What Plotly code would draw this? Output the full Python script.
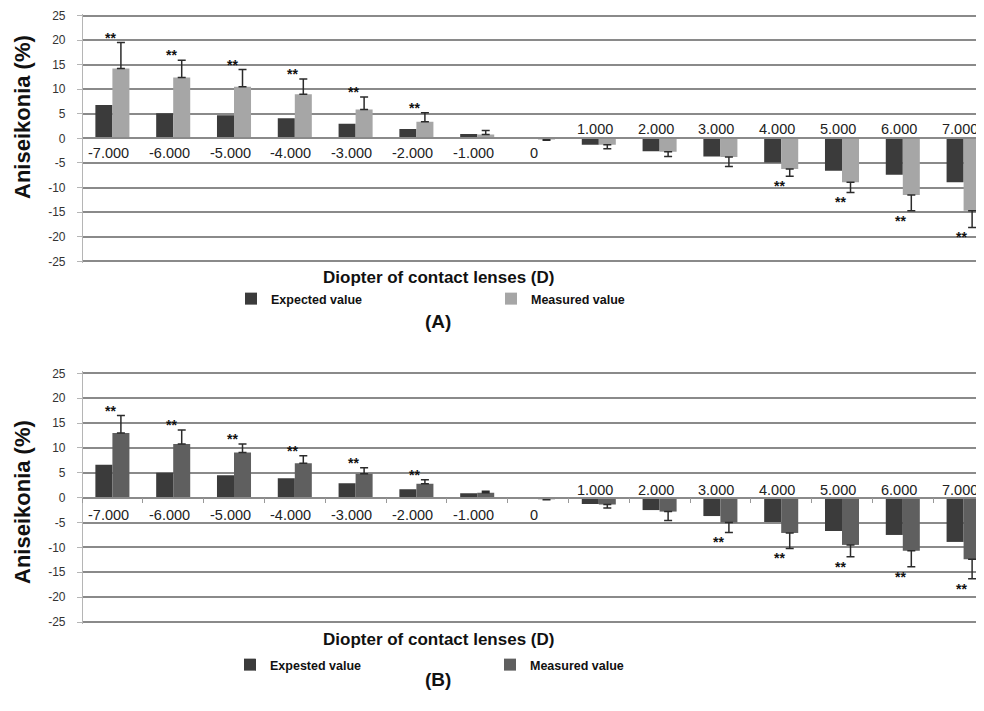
import plotly.graph_objects as go

# ---------------- data ----------------
diopter_values = [-7, -6, -5, -4, -3, -2, -1, 0, 1, 2, 3, 4, 5, 6, 7]
diopter_labels = ["-7.000", "-6.000", "-5.000", "-4.000", "-3.000", "-2.000", "-1.000", "0",
                  "1.000", "2.000", "3.000", "4.000", "5.000", "6.000", "7.000"]

# Panel (A)
a_expected = [6.8, 5.1, 4.7, 4.1, 3.0, 1.9, 0.9, 0.0, -1.3, -2.6, -3.7, -4.9, -6.6, -7.4, -8.9]
a_measured = [14.2, 12.4, 10.5, 9.0, 5.9, 3.4, 0.8, -0.1, -1.3, -2.7, -3.8, -6.2, -8.9, -11.5, -14.7]
a_measured_sd = [5.3, 3.5, 3.5, 3.1, 2.5, 1.8, 0.8, 0.3, 0.8, 1.0, 1.9, 1.5, 2.1, 3.2, 3.4]
a_significant = [True, True, True, True, True, True, False, False, False, False, False, True, True, True, True]

# Panel (B)
b_expected = [6.6, 5.0, 4.5, 3.9, 2.9, 1.7, 0.9, 0.0, -1.3, -2.5, -3.7, -4.9, -6.7, -7.5, -8.9]
b_measured = [13.0, 10.8, 9.1, 6.9, 4.8, 2.8, 1.0, -0.2, -1.4, -2.8, -5.0, -7.1, -9.5, -10.7, -12.4]
b_measured_sd = [3.5, 2.8, 1.7, 1.5, 1.2, 0.8, 0.3, 0.2, 0.7, 1.8, 2.0, 3.1, 2.4, 3.2, 3.9]
b_significant = [True, True, True, True, True, True, False, False, False, False, True, True, True, True, True]

y_ticks = [-25, -20, -15, -10, -5, 0, 5, 10, 15, 20, 25]

# ---------------- styling ----------------
OFF = 8                      # page body margin
W, H = 984 - OFF, 711 - OFF  # figure size
FONT = "Liberation Sans"
C_EXP = "#3b3b3b"
C_MEAS_A = "#a6a6a6"
C_MEAS_B = "#5f5f5f"
GRID = "#8a8a8a"


def px(xp):
    return (xp - OFF) / W


def py(yp):
    return 1 - (yp - OFF) / H


x_left = px(82)
cat_px = 60.8
x_range = [-0.5, -0.5 + (984 - 82) / cat_px]

# plot areas (top/bottom pixel of the +25 / -25 grid lines)
A_TOP, A_BOT = 15.5, 261.3
B_TOP, B_BOT = 373.3, 622.0
Y_PAD = 0.4


def ydom(top, bot):
    unit = (bot - top) / 50.0
    return [py(bot + Y_PAD * unit), py(top - Y_PAD * unit)]


ydom_a = ydom(A_TOP, A_BOT)
ydom_b = ydom(B_TOP, B_BOT)
y_range = [-25 - Y_PAD, 25 + Y_PAD]


def err_arrays(vals, sd):
    plus = [s if v >= 0 else 0 for v, s in zip(vals, sd)]
    minus = [s if v < 0 else 0 for v, s in zip(vals, sd)]
    return plus, minus


fig = go.Figure()

panels = [
    ("x", "y", a_expected, a_measured, a_measured_sd, C_MEAS_A, "legend", "Expected value"),
    ("x2", "y2", b_expected, b_measured, b_measured_sd, C_MEAS_B, "legend2", "Expested value"),
]
for xa, ya, exp_v, meas_v, sd, cmeas, leg, exp_name in panels:
    fig.add_trace(go.Bar(
        x=diopter_labels, y=exp_v, name=exp_name, xaxis=xa, yaxis=ya,
        marker=dict(color=C_EXP, line=dict(width=0)), legend=leg,
    ))
    plus, minus = err_arrays(meas_v, sd)
    fig.add_trace(go.Bar(
        x=diopter_labels, y=meas_v, name="Measured value", xaxis=xa, yaxis=ya,
        marker=dict(color=cmeas, line=dict(width=0)), legend=leg,
        error_y=dict(type="data", symmetric=False, array=plus, arrayminus=minus,
                     color="#2b2b2b", thickness=1.5, width=4),
    ))

annotations = []

# category labels along the zero line + significance stars
for xref, yref, meas_v, sd, sig, shift_neg, shift_pos in [
    ("x", "y", a_measured, a_measured_sd, a_significant, -14.5, 9),
    ("x2", "y2", b_measured, b_measured_sd, b_significant, -17, 8),
]:
    for i, (d, lab) in enumerate(zip(diopter_values, diopter_labels)):
        annotations.append(dict(
            x=i, y=0, xref=xref, yref=yref, text=lab, showarrow=False,
            xshift=-4, yshift=shift_pos if d > 0 else shift_neg, yanchor="middle",
            font=dict(family=FONT, size=14.5, color="#222222"),
        ))
    for i, (v, s, flag) in enumerate(zip(meas_v, sd, sig)):
        if not flag:
            continue
        end = v + s if v >= 0 else v - s
        annotations.append(dict(
            x=i, y=end, xref=xref, yref=yref, text="**", showarrow=False,
            xshift=-2, yanchor="bottom" if v >= 0 else "top",
            yshift=-5 if v >= 0 else 0,
            font=dict(family=FONT, size=14, color="#111111", weight="bold"),
        ))

# titles
for ycen in [117, 502]:
    annotations.append(dict(
        x=px(22), y=py(ycen), xref="paper", yref="paper", text="Aniseikonia (%)",
        textangle=-90, showarrow=False, xanchor="center", yanchor="middle",
        font=dict(family=FONT, size=22, color="#111111", weight="bold"),
    ))
for ycen in [278, 639.5]:
    annotations.append(dict(
        x=px(438), y=py(ycen), xref="paper", yref="paper", text="Diopter of contact lenses (D)",
        showarrow=False, xanchor="center", yanchor="middle",
        font=dict(family=FONT, size=17, color="#111111", weight="bold"),
    ))
for txt, ycen in [("(A)", 321.5), ("(B)", 679)]:
    annotations.append(dict(
        x=px(438), y=py(ycen), xref="paper", yref="paper", text=txt,
        showarrow=False, xanchor="center", yanchor="middle",
        font=dict(family=FONT, size=19, color="#111111", weight="bold"),
    ))

xaxis_common = dict(
    type="category", range=x_range, domain=[x_left, 1], anchor="free",
    showgrid=False, zeroline=False, showticklabels=False,
    showline=True, linecolor=GRID, linewidth=1.5, tickson="boundaries",
    fixedrange=True, automargin=False,
)
yaxis_common = dict(
    range=y_range, tickvals=y_ticks, ticktext=[str(t) for t in y_ticks],
    showgrid=True, gridcolor=GRID, gridwidth=1.5,
    zeroline=True, zerolinecolor=GRID, zerolinewidth=1.5,
    showline=True, linecolor="#b5b5b5", linewidth=1.2,
    ticks="outside", ticklen=5, tickcolor="#b5b5b5", ticklabelstandoff=9,
    ticklabeloverflow="allow",
    tickfont=dict(family=FONT, size=12, color="#333333"),
    anchor="free", position=x_left, fixedrange=True, automargin=False,
)

legend_common = dict(
    orientation="h", xanchor="left", yanchor="middle",
    font=dict(family=FONT, size=12.5, color="#111111", weight="bold"),
    entrywidth=215, entrywidthmode="pixels", itemwidth=30,
    bgcolor="rgba(0,0,0,0)", traceorder="normal",
)

fig.update_layout(
    width=W, height=H,
    margin=dict(l=0, r=0, t=0, b=0, pad=0, autoexpand=False),
    paper_bgcolor="white", plot_bgcolor="white",
    barmode="group", bargap=0.44, bargroupgap=0,
    showlegend=True,
    xaxis=dict(xaxis_common, position=(ydom_a[0] + ydom_a[1]) / 2, ticks=""),
    xaxis2=dict(xaxis_common, position=(ydom_b[0] + ydom_b[1]) / 2,
                ticks="outside", ticklen=5, tickcolor="#999999"),
    yaxis=dict(yaxis_common, domain=ydom_a),
    yaxis2=dict(yaxis_common, domain=ydom_b),
    legend=dict(legend_common, x=px(231), y=py(299)),
    legend2=dict(legend_common, x=px(230), y=py(665)),
    annotations=annotations,
)

fig.write_html("out.html")
